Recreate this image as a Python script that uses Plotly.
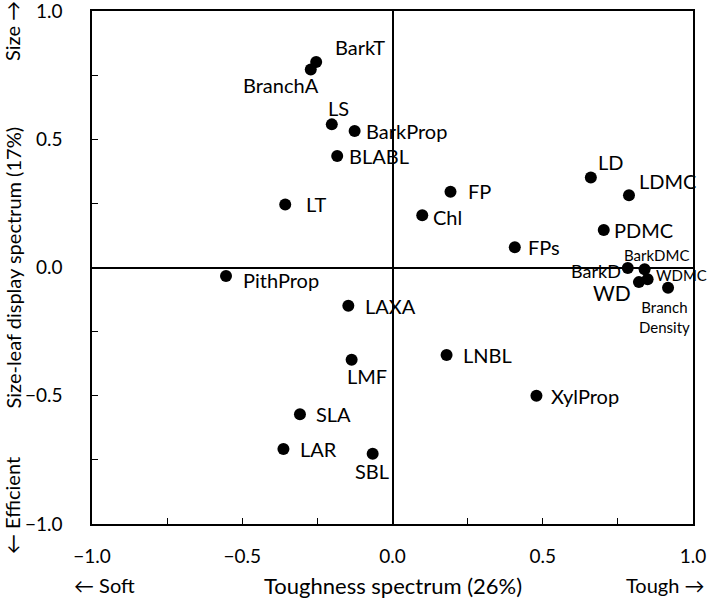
import plotly.graph_objects as go

# ---- data ----
traits = ["BarkT", "BranchA", "LS", "BarkProp", "BLABL", "LT", "FP", "Chl", "FPs",
          "LD", "LDMC", "PDMC", "BarkD", "BarkDMC", "WD", "WDMC", "Branch<br>Density",
          "PithProp", "LAXA", "LMF", "LNBL", "XylProp", "SLA", "LAR", "SBL"]
toughness = [-0.254, -0.272, -0.202, -0.126, -0.184, -0.357, 0.193, 0.099, 0.407,
             0.660, 0.787, 0.703, 0.783, 0.839, 0.820, 0.849, 0.917,
             -0.554, -0.147, -0.136, 0.180, 0.479, -0.308, -0.363, -0.066]
size_leaf = [0.801, 0.772, 0.558, 0.532, 0.435, 0.246, 0.295, 0.204, 0.079,
             0.351, 0.282, 0.146, -0.002, -0.007, -0.057, -0.046, -0.079,
             -0.033, -0.149, -0.360, -0.341, -0.500, -0.572, -0.708, -0.726]
tick_vals = [-1.0, -0.75, -0.5, -0.25, 0.0, 0.25, 0.5, 0.75, 1.0]
tick_text = ["\u22121.0", "", "\u22120.5", "", "0.0", "", "0.5", "", "1.0"]

# ---- label styling (anchor, xshift, yshift, font size) ----
label_style = {
    "BarkT": ("left", 17, 15, 20), "BranchA": ("right", 10, -16, 20),
    "LS": ("left", -6, 16, 20), "BarkProp": ("left", 9, 0, 20),
    "BLABL": ("left", 10, 0, 20), "LT": ("left", 19, 0, 20),
    "FP": ("left", 15, 1, 20), "Chl": ("left", 9, -2, 20),
    "FPs": ("left", 11, 0, 20), "LD": ("left", 5, 15, 20),
    "LDMC": ("left", 8, 14, 20), "PDMC": ("left", 8, 0, 20),
    "BarkD": ("right", -5, -3, 18), "BarkDMC": ("center", 12, 14, 15),
    "WD": ("right", -6, -10, 21), "WDMC": ("left", 6, 4, 15),
    "Branch<br>Density": ("center", -4, -29, 15),
    "PithProp": ("left", 15, -4, 20), "LAXA": ("left", 15, 0, 20),
    "LMF": ("center", 15, -16, 20), "LNBL": ("left", 14, 0, 20),
    "XylProp": ("left", 13, 0, 20), "SLA": ("left", 14, 0, 20),
    "LAR": ("left", 15, 0, 20), "SBL": ("center", -1, -17, 20),
}

FONT = "Lato, 'Open Sans', sans-serif"

fig = go.Figure()
fig.add_trace(go.Scatter(
    x=toughness, y=size_leaf, mode="markers",
    marker=dict(size=12, color="black"), showlegend=False, hoverinfo="text",
    text=traits,
))

annotations = []
for name, xv, yv in zip(traits, toughness, size_leaf):
    anc, dx, dy, fs = label_style[name]
    annotations.append(dict(
        x=xv, y=yv, xref="x", yref="y", text=name, showarrow=False,
        xanchor=anc, yanchor="middle", xshift=dx, yshift=dy,
        font=dict(family=FONT, size=fs, color="black"),
    ))

# axis titles
axis_font = dict(family=FONT, size=20, color="black")
annotations += [
    dict(text="Toughness spectrum (26%)", x=0.5, y=0, xref="paper", yref="paper",
         xanchor="center", yanchor="middle", yshift=-61, showarrow=False,
         font=dict(family=FONT, size=22, color="black")),
    dict(text="\u2190 Soft", x=0, y=0, xref="paper", yref="paper",
         xanchor="center", yanchor="middle", xshift=12, yshift=-61, showarrow=False, font=axis_font),
    dict(text="Tough \u2192", x=1, y=0, xref="paper", yref="paper",
         xanchor="center", yanchor="middle", xshift=-28, yshift=-61, showarrow=False, font=axis_font),
    dict(text="Size-leaf display spectrum (17%)", x=0, y=0.5, xref="paper", yref="paper",
         xanchor="center", yanchor="middle", xshift=-80, textangle=-90, showarrow=False, font=axis_font),
    dict(text="Size \u2192", x=0, y=1, xref="paper", yref="paper",
         xanchor="center", yanchor="middle", xshift=-80, yshift=-20, textangle=-90, showarrow=False, font=axis_font),
    dict(text="\u2190 Efficient", x=0, y=0, xref="paper", yref="paper",
         xanchor="center", yanchor="middle", xshift=-80, yshift=18, textangle=-90, showarrow=False, font=axis_font),
]

axis_common = dict(
    range=[-1, 1], tickmode="array", tickvals=tick_vals, ticktext=tick_text,
    ticks="inside", ticklen=6, tickwidth=1.3, tickcolor="black",
    showline=True, linecolor="black", linewidth=1.5, mirror=True,
    showgrid=False, zeroline=True, zerolinecolor="black", zerolinewidth=1.5,
    tickfont=dict(family=FONT, size=19, color="black"), automargin=False,
    ticklabeloverflow="allow",
)

fig.update_layout(
    width=709, height=606,
    margin=dict(l=92, r=16, t=11, b=82),
    paper_bgcolor="white", plot_bgcolor="white",
    xaxis=dict(**axis_common, ticklabelstandoff=14),
    yaxis=dict(**axis_common, ticklabelstandoff=24),
    annotations=annotations,
)

fig.write_html("out.html", config={"displayModeBar": False},
               post_script="document.body.style.margin='0';")
